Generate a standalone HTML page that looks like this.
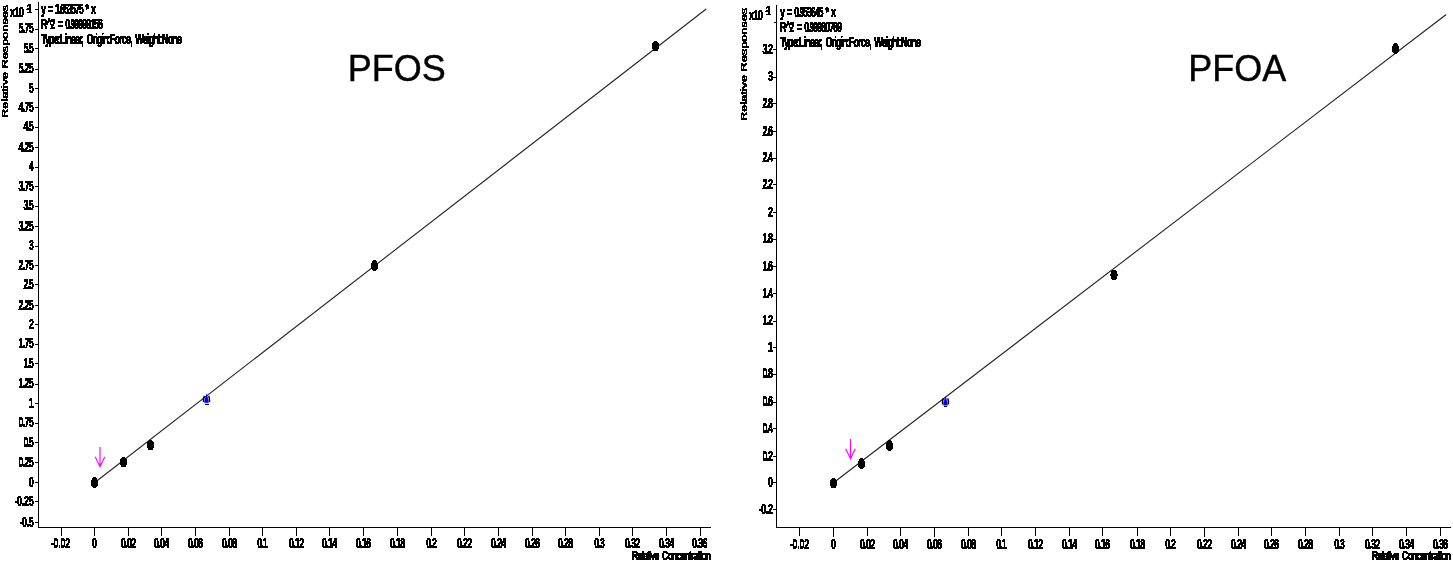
<!DOCTYPE html>
<html lang="en">
<head>
<meta charset="utf-8">
<title>Calibration curves: PFOS and PFOA</title>
<style>
html,body{margin:0;padding:0;background:#fff;}
body{width:1453px;height:566px;overflow:hidden;}
svg{display:block;}
text{font-family:"Liberation Sans",sans-serif;fill:#000;}
.t{font-size:14px;font-weight:bold;stroke:#000;stroke-width:0.7px;word-spacing:3px;}
.yl{font-size:9.6px;font-weight:normal;stroke:#000;stroke-width:0.65px;}
.sup{font-size:12.6px;stroke-width:0.2px;}
.xt{font-size:13.7px;}
.ylr{font-size:9.8px;stroke-width:0.7px;}
.big{font-size:36px;stroke:#000;stroke-width:0.4px;}
rect{shape-rendering:crispEdges;}
</style>
</head>
<body>
<svg width="1453" height="566" viewBox="0 0 1453 566">
<defs>
<filter id="crisp" x="0" y="0" width="1453" height="566" filterUnits="userSpaceOnUse" color-interpolation-filters="sRGB">
<feComponentTransfer><feFuncA type="discrete" tableValues="0 1"/></feComponentTransfer>
</filter>
</defs>
<rect x="0" y="0" width="1453" height="566" fill="#fff"/>
<g id="pfos">
<rect x="38" y="2" width="1" height="526" fill="#000"/>
<rect x="38" y="527" width="673" height="1" fill="#000"/>
<rect x="35" y="9" width="3" height="1" fill="#000"/>
<rect x="35" y="29" width="3" height="1" fill="#000"/>
<rect x="35" y="48" width="3" height="1" fill="#000"/>
<rect x="35" y="69" width="3" height="1" fill="#000"/>
<rect x="35" y="88" width="3" height="1" fill="#000"/>
<rect x="35" y="107" width="3" height="1" fill="#000"/>
<rect x="35" y="127" width="3" height="1" fill="#000"/>
<rect x="35" y="147" width="3" height="1" fill="#000"/>
<rect x="35" y="167" width="3" height="1" fill="#000"/>
<rect x="35" y="186" width="3" height="1" fill="#000"/>
<rect x="35" y="206" width="3" height="1" fill="#000"/>
<rect x="35" y="226" width="3" height="1" fill="#000"/>
<rect x="35" y="246" width="3" height="1" fill="#000"/>
<rect x="35" y="265" width="3" height="1" fill="#000"/>
<rect x="35" y="284" width="3" height="1" fill="#000"/>
<rect x="35" y="305" width="3" height="1" fill="#000"/>
<rect x="35" y="324" width="3" height="1" fill="#000"/>
<rect x="35" y="344" width="3" height="1" fill="#000"/>
<rect x="35" y="363" width="3" height="1" fill="#000"/>
<rect x="35" y="384" width="3" height="1" fill="#000"/>
<rect x="35" y="403" width="3" height="1" fill="#000"/>
<rect x="35" y="423" width="3" height="1" fill="#000"/>
<rect x="35" y="442" width="3" height="1" fill="#000"/>
<rect x="35" y="462" width="3" height="1" fill="#000"/>
<rect x="35" y="482" width="3" height="1" fill="#000"/>
<rect x="35" y="501" width="3" height="1" fill="#000"/>
<rect x="35" y="522" width="3" height="1" fill="#000"/>
<rect x="61" y="528" width="1" height="8" fill="#000"/>
<rect x="94" y="528" width="1" height="8" fill="#000"/>
<rect x="128" y="528" width="1" height="8" fill="#000"/>
<rect x="161" y="528" width="1" height="8" fill="#000"/>
<rect x="195" y="528" width="1" height="8" fill="#000"/>
<rect x="229" y="528" width="1" height="8" fill="#000"/>
<rect x="262" y="528" width="1" height="8" fill="#000"/>
<rect x="296" y="528" width="1" height="8" fill="#000"/>
<rect x="329" y="528" width="1" height="8" fill="#000"/>
<rect x="363" y="528" width="1" height="8" fill="#000"/>
<rect x="397" y="528" width="1" height="8" fill="#000"/>
<rect x="431" y="528" width="1" height="8" fill="#000"/>
<rect x="464" y="528" width="1" height="8" fill="#000"/>
<rect x="498" y="528" width="1" height="8" fill="#000"/>
<rect x="532" y="528" width="1" height="8" fill="#000"/>
<rect x="565" y="528" width="1" height="8" fill="#000"/>
<rect x="599" y="528" width="1" height="8" fill="#000"/>
<rect x="632" y="528" width="1" height="8" fill="#000"/>
<rect x="666" y="528" width="1" height="8" fill="#000"/>
<rect x="700" y="528" width="1" height="8" fill="#000"/>
<line x1="94.8" y1="482.5" x2="706.2" y2="9" stroke="#222" stroke-width="1.1"/>
<path d="M204.3 395.9Q203.3 398.0 203.4 401.9M208.7 395.9Q209.7 398.0 209.6 401.9" fill="none" stroke="#000" stroke-width="1.4"/>
<path d="M203.1 403.2h6.8" stroke="#b4efff" stroke-width="0.9" fill="none"/>
<path d="M206.5 393.9L207.5 396.9L208.4 400.1L208.6 402.8L204.4 402.8L204.6 400.1L205.5 396.9Z" fill="#0000ff" stroke="#0000ff" stroke-width="0.3"/>
<rect x="205" y="404" width="4" height="1" fill="#000"/>
<path d="M100 447 L100 467 M95.2 456.8 L100 466.7 L104.8 456.8" fill="none" stroke="#ff00ff" stroke-width="1.15"/>
<text class="big" x="347.8" y="81">PFOS</text>
<g filter="url(#crisp)">
<text class="t" transform="translate(18.40 33) scale(0.64 1)" textLength="24.06" lengthAdjust="spacing">5.75</text>
<text class="t" transform="translate(23.40 53) scale(0.64 1)" textLength="16.25" lengthAdjust="spacing">5.5</text>
<text class="t" transform="translate(18.40 73) scale(0.64 1)" textLength="24.06" lengthAdjust="spacing">5.25</text>
<text class="t" transform="translate(28.80 93) scale(0.64 1)" textLength="7.81" lengthAdjust="spacing">5</text>
<text class="t" transform="translate(18.40 112) scale(0.64 1)" textLength="24.06" lengthAdjust="spacing">4.75</text>
<text class="t" transform="translate(23.40 131) scale(0.64 1)" textLength="16.25" lengthAdjust="spacing">4.5</text>
<text class="t" transform="translate(18.40 152) scale(0.64 1)" textLength="24.06" lengthAdjust="spacing">4.25</text>
<text class="t" transform="translate(28.80 171) scale(0.64 1)" textLength="7.81" lengthAdjust="spacing">4</text>
<text class="t" transform="translate(18.40 191) scale(0.64 1)" textLength="24.06" lengthAdjust="spacing">3.75</text>
<text class="t" transform="translate(23.40 210) scale(0.64 1)" textLength="16.25" lengthAdjust="spacing">3.5</text>
<text class="t" transform="translate(18.40 231) scale(0.64 1)" textLength="24.06" lengthAdjust="spacing">3.25</text>
<text class="t" transform="translate(28.80 250) scale(0.64 1)" textLength="7.81" lengthAdjust="spacing">3</text>
<text class="t" transform="translate(18.40 270) scale(0.64 1)" textLength="24.06" lengthAdjust="spacing">2.75</text>
<text class="t" transform="translate(23.40 289) scale(0.64 1)" textLength="16.25" lengthAdjust="spacing">2.5</text>
<text class="t" transform="translate(18.40 310) scale(0.64 1)" textLength="24.06" lengthAdjust="spacing">2.25</text>
<text class="t" transform="translate(28.80 329) scale(0.64 1)" textLength="7.81" lengthAdjust="spacing">2</text>
<text class="t" transform="translate(18.40 348) scale(0.64 1)" textLength="24.06" lengthAdjust="spacing">1.75</text>
<text class="t" transform="translate(23.40 368) scale(0.64 1)" textLength="16.25" lengthAdjust="spacing">1.5</text>
<text class="t" transform="translate(18.40 388) scale(0.64 1)" textLength="24.06" lengthAdjust="spacing">1.25</text>
<text class="t" transform="translate(28.80 408) scale(0.64 1)" textLength="7.81" lengthAdjust="spacing">1</text>
<text class="t" transform="translate(18.40 427) scale(0.64 1)" textLength="24.06" lengthAdjust="spacing">0.75</text>
<text class="t" transform="translate(23.40 447) scale(0.64 1)" textLength="16.25" lengthAdjust="spacing">0.5</text>
<text class="t" transform="translate(18.40 467) scale(0.64 1)" textLength="24.06" lengthAdjust="spacing">0.25</text>
<text class="t" transform="translate(28.80 487) scale(0.64 1)" textLength="7.81" lengthAdjust="spacing">0</text>
<text class="t" transform="translate(14.40 506) scale(0.64 1)" textLength="30.31" lengthAdjust="spacing">-0.25</text>
<text class="t" transform="translate(19.40 527) scale(0.64 1)" textLength="22.50" lengthAdjust="spacing">-0.5</text>
<text class="t" transform="translate(50.80 548) scale(0.64 1)" textLength="30.31" lengthAdjust="spacing">-0.02</text>
<text class="t" transform="translate(92.00 548) scale(0.64 1)" textLength="7.81" lengthAdjust="spacing">0</text>
<text class="t" transform="translate(120.80 548) scale(0.64 1)" textLength="24.06" lengthAdjust="spacing">0.02</text>
<text class="t" transform="translate(153.80 548) scale(0.64 1)" textLength="24.06" lengthAdjust="spacing">0.04</text>
<text class="t" transform="translate(187.80 548) scale(0.64 1)" textLength="24.06" lengthAdjust="spacing">0.06</text>
<text class="t" transform="translate(221.80 548) scale(0.64 1)" textLength="24.06" lengthAdjust="spacing">0.08</text>
<text class="t" transform="translate(257.30 548) scale(0.64 1)" textLength="16.25" lengthAdjust="spacing">0.1</text>
<text class="t" transform="translate(288.80 548) scale(0.64 1)" textLength="24.06" lengthAdjust="spacing">0.12</text>
<text class="t" transform="translate(321.80 548) scale(0.64 1)" textLength="24.06" lengthAdjust="spacing">0.14</text>
<text class="t" transform="translate(355.80 548) scale(0.64 1)" textLength="24.06" lengthAdjust="spacing">0.16</text>
<text class="t" transform="translate(389.80 548) scale(0.64 1)" textLength="24.06" lengthAdjust="spacing">0.18</text>
<text class="t" transform="translate(426.30 548) scale(0.64 1)" textLength="16.25" lengthAdjust="spacing">0.2</text>
<text class="t" transform="translate(456.80 548) scale(0.64 1)" textLength="24.06" lengthAdjust="spacing">0.22</text>
<text class="t" transform="translate(490.80 548) scale(0.64 1)" textLength="24.06" lengthAdjust="spacing">0.24</text>
<text class="t" transform="translate(524.80 548) scale(0.64 1)" textLength="24.06" lengthAdjust="spacing">0.26</text>
<text class="t" transform="translate(557.80 548) scale(0.64 1)" textLength="24.06" lengthAdjust="spacing">0.28</text>
<text class="t" transform="translate(594.30 548) scale(0.64 1)" textLength="16.25" lengthAdjust="spacing">0.3</text>
<text class="t" transform="translate(624.80 548) scale(0.64 1)" textLength="24.06" lengthAdjust="spacing">0.32</text>
<text class="t" transform="translate(658.80 548) scale(0.64 1)" textLength="24.06" lengthAdjust="spacing">0.34</text>
<text class="t" transform="translate(692.00 548) scale(0.64 1)" textLength="24.06" lengthAdjust="spacing">0.36</text>
<ellipse cx="94.5" cy="482.5" rx="3.55" ry="5.55" fill="#000"/>
<ellipse cx="123.5" cy="462" rx="3.55" ry="5.55" fill="#000"/>
<ellipse cx="150.5" cy="445" rx="3.55" ry="5.55" fill="#000"/>
<ellipse cx="374.5" cy="265.5" rx="3.55" ry="5.55" fill="#000"/>
<ellipse cx="655.5" cy="46" rx="3.55" ry="5.55" fill="#000"/>
<text class="t" transform="translate(41.00 14) scale(0.64 1)" textLength="85.94" lengthAdjust="spacing">y = 1.653575 * x</text>
<text class="t" transform="translate(41.00 29) scale(0.64 1)" textLength="96.88" lengthAdjust="spacing">R^2 = 0.99999156</text>
<text class="t" transform="translate(41.00 44) scale(0.64 1)" textLength="220.31" lengthAdjust="spacing">Type:Linear, Origin:Force, Weight:None</text>
<text class="t" transform="translate(10.00 17) scale(0.64 1)" textLength="21.88" lengthAdjust="spacing">x10</text>
<text class="t sup" transform="translate(26.00 13) scale(0.85 1)" textLength="7.76" lengthAdjust="spacing">-1</text>
<text class="t xt" transform="translate(632.00 560) scale(0.64 1)" textLength="123.44" lengthAdjust="spacing">Relative Concentration</text>
<text class="yl" transform="translate(8 118) rotate(-90) scale(1.3 1)" textLength="86.92" lengthAdjust="spacing">Relative Responses</text>
</g>
</g>
<g id="pfoa">
<rect x="776" y="5" width="1" height="523" fill="#000"/>
<rect x="776" y="527" width="675" height="1" fill="#000"/>
<rect x="774" y="22" width="2" height="1" fill="#000"/>
<rect x="773" y="49" width="3" height="1" fill="#000"/>
<rect x="773" y="77" width="3" height="1" fill="#000"/>
<rect x="773" y="103" width="3" height="1" fill="#000"/>
<rect x="773" y="131" width="3" height="1" fill="#000"/>
<rect x="773" y="158" width="3" height="1" fill="#000"/>
<rect x="773" y="184" width="3" height="1" fill="#000"/>
<rect x="773" y="212" width="3" height="1" fill="#000"/>
<rect x="773" y="239" width="3" height="1" fill="#000"/>
<rect x="773" y="266" width="3" height="1" fill="#000"/>
<rect x="773" y="293" width="3" height="1" fill="#000"/>
<rect x="773" y="321" width="3" height="1" fill="#000"/>
<rect x="773" y="347" width="3" height="1" fill="#000"/>
<rect x="773" y="374" width="3" height="1" fill="#000"/>
<rect x="773" y="402" width="3" height="1" fill="#000"/>
<rect x="773" y="428" width="3" height="1" fill="#000"/>
<rect x="773" y="456" width="3" height="1" fill="#000"/>
<rect x="773" y="482" width="3" height="1" fill="#000"/>
<rect x="773" y="509" width="3" height="1" fill="#000"/>
<rect x="799" y="528" width="1" height="8" fill="#000"/>
<rect x="833" y="528" width="1" height="9" fill="#000"/>
<rect x="867" y="528" width="1" height="8" fill="#000"/>
<rect x="900" y="528" width="1" height="8" fill="#000"/>
<rect x="934" y="528" width="1" height="9" fill="#000"/>
<rect x="968" y="528" width="1" height="8" fill="#000"/>
<rect x="1001" y="528" width="1" height="8" fill="#000"/>
<rect x="1035" y="528" width="1" height="8" fill="#000"/>
<rect x="1069" y="528" width="1" height="8" fill="#000"/>
<rect x="1102" y="528" width="1" height="8" fill="#000"/>
<rect x="1137" y="528" width="1" height="8" fill="#000"/>
<rect x="1170" y="528" width="1" height="8" fill="#000"/>
<rect x="1204" y="528" width="1" height="9" fill="#000"/>
<rect x="1238" y="528" width="1" height="8" fill="#000"/>
<rect x="1271" y="528" width="1" height="8" fill="#000"/>
<rect x="1305" y="528" width="1" height="8" fill="#000"/>
<rect x="1339" y="528" width="1" height="8" fill="#000"/>
<rect x="1372" y="528" width="1" height="8" fill="#000"/>
<rect x="1406" y="528" width="1" height="8" fill="#000"/>
<rect x="1440" y="528" width="1" height="8" fill="#000"/>
<line x1="833.8" y1="482.5" x2="1446.2" y2="14.5" stroke="#222" stroke-width="1.1"/>
<path d="M943.3 398.4Q942.3 400.5 942.5 404.4M947.7 398.4Q948.7 400.5 948.5 404.4" fill="none" stroke="#000" stroke-width="1.4"/>
<path d="M942.1 405.7h6.8" stroke="#b4efff" stroke-width="0.9" fill="none"/>
<path d="M945.5 396.4L946.5 399.4L947.4 402.6L947.6 405.3L943.4 405.3L943.6 402.6L944.5 399.4Z" fill="#0000ff" stroke="#0000ff" stroke-width="0.3"/>
<rect x="944" y="406" width="3" height="1" fill="#000"/>
<path d="M850.5 439 L850.5 459 M845.7 448.8 L850.5 458.7 L855.3 448.8" fill="none" stroke="#ff00ff" stroke-width="1.15"/>
<text class="big" x="1188.3" y="81">PFOA</text>
<g filter="url(#crisp)">
<text class="t" transform="translate(762.60 54) scale(0.64 1)" textLength="16.25" lengthAdjust="spacing">3.2</text>
<text class="t" transform="translate(768.00 81) scale(0.64 1)" textLength="7.81" lengthAdjust="spacing">3</text>
<text class="t" transform="translate(762.60 108) scale(0.64 1)" textLength="16.25" lengthAdjust="spacing">2.8</text>
<text class="t" transform="translate(762.60 136) scale(0.64 1)" textLength="16.25" lengthAdjust="spacing">2.6</text>
<text class="t" transform="translate(762.60 162) scale(0.64 1)" textLength="16.25" lengthAdjust="spacing">2.4</text>
<text class="t" transform="translate(762.60 189) scale(0.64 1)" textLength="16.25" lengthAdjust="spacing">2.2</text>
<text class="t" transform="translate(768.00 217) scale(0.64 1)" textLength="7.81" lengthAdjust="spacing">2</text>
<text class="t" transform="translate(762.60 243) scale(0.64 1)" textLength="16.25" lengthAdjust="spacing">1.8</text>
<text class="t" transform="translate(762.60 271) scale(0.64 1)" textLength="16.25" lengthAdjust="spacing">1.6</text>
<text class="t" transform="translate(762.60 298) scale(0.64 1)" textLength="16.25" lengthAdjust="spacing">1.4</text>
<text class="t" transform="translate(762.60 325) scale(0.64 1)" textLength="16.25" lengthAdjust="spacing">1.2</text>
<text class="t" transform="translate(768.00 352) scale(0.64 1)" textLength="7.81" lengthAdjust="spacing">1</text>
<text class="t" transform="translate(762.60 378) scale(0.64 1)" textLength="16.25" lengthAdjust="spacing">0.8</text>
<text class="t" transform="translate(762.60 406) scale(0.64 1)" textLength="16.25" lengthAdjust="spacing">0.6</text>
<text class="t" transform="translate(762.60 433) scale(0.64 1)" textLength="16.25" lengthAdjust="spacing">0.4</text>
<text class="t" transform="translate(762.60 461) scale(0.64 1)" textLength="16.25" lengthAdjust="spacing">0.2</text>
<text class="t" transform="translate(768.00 487) scale(0.64 1)" textLength="7.81" lengthAdjust="spacing">0</text>
<text class="t" transform="translate(758.60 514) scale(0.64 1)" textLength="22.50" lengthAdjust="spacing">-0.2</text>
<text class="t" transform="translate(789.80 549) scale(0.64 1)" textLength="30.31" lengthAdjust="spacing">-0.02</text>
<text class="t" transform="translate(831.00 549) scale(0.64 1)" textLength="7.81" lengthAdjust="spacing">0</text>
<text class="t" transform="translate(859.80 549) scale(0.64 1)" textLength="24.06" lengthAdjust="spacing">0.02</text>
<text class="t" transform="translate(892.80 549) scale(0.64 1)" textLength="24.06" lengthAdjust="spacing">0.04</text>
<text class="t" transform="translate(926.80 549) scale(0.64 1)" textLength="24.06" lengthAdjust="spacing">0.06</text>
<text class="t" transform="translate(960.80 549) scale(0.64 1)" textLength="24.06" lengthAdjust="spacing">0.08</text>
<text class="t" transform="translate(996.30 549) scale(0.64 1)" textLength="16.25" lengthAdjust="spacing">0.1</text>
<text class="t" transform="translate(1027.80 549) scale(0.64 1)" textLength="24.06" lengthAdjust="spacing">0.12</text>
<text class="t" transform="translate(1061.80 549) scale(0.64 1)" textLength="24.06" lengthAdjust="spacing">0.14</text>
<text class="t" transform="translate(1094.80 549) scale(0.64 1)" textLength="24.06" lengthAdjust="spacing">0.16</text>
<text class="t" transform="translate(1129.80 549) scale(0.64 1)" textLength="24.06" lengthAdjust="spacing">0.18</text>
<text class="t" transform="translate(1165.30 549) scale(0.64 1)" textLength="16.25" lengthAdjust="spacing">0.2</text>
<text class="t" transform="translate(1196.80 549) scale(0.64 1)" textLength="24.06" lengthAdjust="spacing">0.22</text>
<text class="t" transform="translate(1230.80 549) scale(0.64 1)" textLength="24.06" lengthAdjust="spacing">0.24</text>
<text class="t" transform="translate(1263.80 549) scale(0.64 1)" textLength="24.06" lengthAdjust="spacing">0.26</text>
<text class="t" transform="translate(1297.80 549) scale(0.64 1)" textLength="24.06" lengthAdjust="spacing">0.28</text>
<text class="t" transform="translate(1334.30 549) scale(0.64 1)" textLength="16.25" lengthAdjust="spacing">0.3</text>
<text class="t" transform="translate(1364.80 549) scale(0.64 1)" textLength="24.06" lengthAdjust="spacing">0.32</text>
<text class="t" transform="translate(1398.80 549) scale(0.64 1)" textLength="24.06" lengthAdjust="spacing">0.34</text>
<text class="t" transform="translate(1432.80 549) scale(0.64 1)" textLength="24.06" lengthAdjust="spacing">0.36</text>
<ellipse cx="833.5" cy="483" rx="3.55" ry="5.55" fill="#000"/>
<ellipse cx="861.5" cy="463.5" rx="3.55" ry="5.55" fill="#000"/>
<ellipse cx="889.5" cy="445.5" rx="3.55" ry="5.55" fill="#000"/>
<ellipse cx="1114" cy="275" rx="3.55" ry="5.55" fill="#000"/>
<ellipse cx="1395.5" cy="48.5" rx="3.55" ry="5.55" fill="#000"/>
<text class="t" transform="translate(780.00 17) scale(0.64 1)" textLength="87.50" lengthAdjust="spacing">y = 0.953645 * x</text>
<text class="t" transform="translate(780.00 32) scale(0.64 1)" textLength="96.88" lengthAdjust="spacing">R^2 = 0.99980769</text>
<text class="t" transform="translate(780.00 47) scale(0.64 1)" textLength="220.31" lengthAdjust="spacing">Type:Linear, Origin:Force, Weight:None</text>
<text class="t" transform="translate(749.00 20) scale(0.64 1)" textLength="21.88" lengthAdjust="spacing">x10</text>
<text class="t sup" transform="translate(765.00 15) scale(0.85 1)" textLength="7.76" lengthAdjust="spacing">-1</text>
<text class="t xt" transform="translate(1372.00 560) scale(0.64 1)" textLength="123.44" lengthAdjust="spacing">Relative Concentration</text>
<text class="yl ylr" transform="translate(747 121) rotate(-90) scale(1.28 1)" textLength="88.28" lengthAdjust="spacing">Relative Responses</text>
</g>
</g>
</svg>
</body>
</html>
